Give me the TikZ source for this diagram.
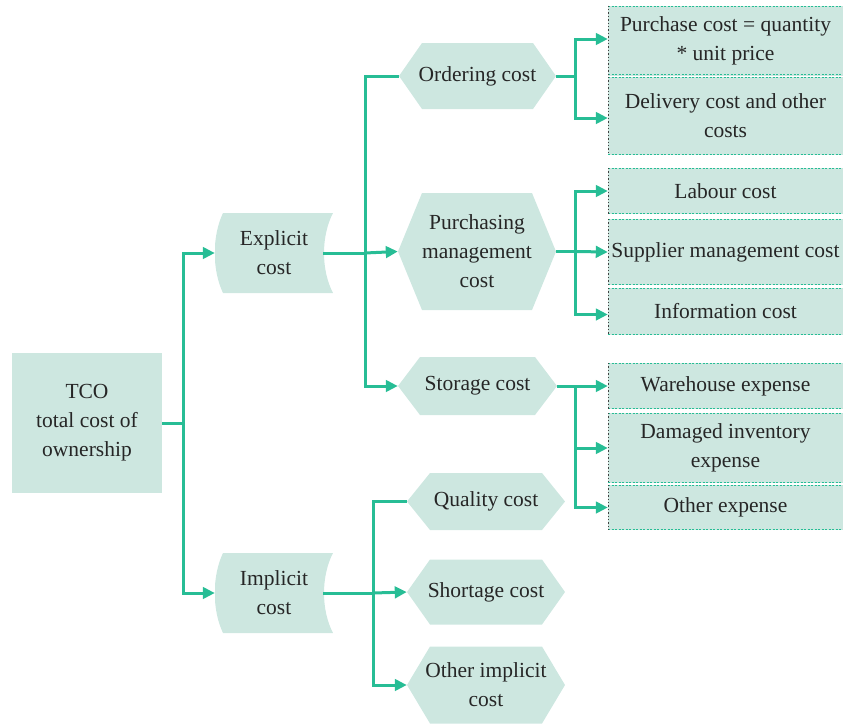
\documentclass[tikz,border=0pt]{standalone}
\usepackage{fontspec}
\setmainfont{Liberation Serif}
\usetikzlibrary{arrows.meta}
\definecolor{boxfill}{HTML}{CDE7E0}
\definecolor{linkteal}{HTML}{27BD95}
\definecolor{inktext}{HTML}{262626}
\definecolor{edgedark}{HTML}{404040}
\tikzset{
  every node/.style={font=\rmfamily\fontsize{21.5}{29}\selectfont, text=inktext, align=center, inner sep=0pt},
  link/.style={draw=linkteal, line width=3pt},
  arrowlink/.style={link, -{Triangle[length=12pt,width=11.5pt]}},
  rootbox/.style={fill=boxfill, minimum width=150pt, minimum height=140pt},
  tapebox/.style={minimum width=118pt, minimum height=80pt,
    path picture={
      \fill[boxfill]
        ([xshift=8pt]path picture bounding box.north west) --
        (path picture bounding box.north east)
        .. controls ([xshift=-12pt,yshift=-23pt]path picture bounding box.north east)
        and ([xshift=-12pt,yshift=23pt]path picture bounding box.south east) ..
        (path picture bounding box.south east) --
        ([xshift=8pt]path picture bounding box.south west)
        .. controls ([xshift=-3pt,yshift=23pt]path picture bounding box.south west)
        and ([xshift=-3pt,yshift=-23pt]path picture bounding box.north west) ..
        ([xshift=8pt]path picture bounding box.north west) -- cycle;
    }},
  hexbox/.style={
    path picture={
      \fill[boxfill]
        (path picture bounding box.west) --
        ([xshift=#1]path picture bounding box.north west) --
        ([xshift=-#1]path picture bounding box.north east) --
        (path picture bounding box.east) --
        ([xshift=-#1]path picture bounding box.south east) --
        ([xshift=#1]path picture bounding box.south west) -- cycle;
    }},
  leafbox/.style={fill=boxfill, minimum width=235pt,
    path picture={
      \draw[linkteal, line width=1.3pt, dash pattern=on 2pt off 1.5pt]
        ([yshift=-0.7pt]path picture bounding box.north west) --
        ([yshift=-0.7pt]path picture bounding box.north east)
        ([yshift=0.7pt]path picture bounding box.south west) --
        ([yshift=0.7pt]path picture bounding box.south east);
      \draw[edgedark, line width=1.4pt, dash pattern=on 1.4pt off 2pt]
        ([xshift=0.7pt]path picture bounding box.north west) --
        ([xshift=0.7pt]path picture bounding box.south west);
    }},
}
\begin{document}
\begin{tikzpicture}[x=1pt, y=-1pt]
\useasboundingbox (0,0) rectangle (843,724);

% root
\node[rootbox] (tco) at (87,423) {TCO\\total cost of\\ownership};

% first level
\node[tapebox] (explicit) at (274,253) {Explicit\\cost};
\node[tapebox] (implicit) at (274,593) {Implicit\\cost};

% second level, explicit branch
\node[hexbox=23pt, minimum width=157pt, minimum height=66pt] (ordering) at (477.5,76) {Ordering cost};
\node[hexbox=24pt, minimum width=158pt, minimum height=117pt] (purch) at (477,251.5) {Purchasing\\management\\cost};
\node[hexbox=22pt, minimum width=159pt, minimum height=58pt] (storage) at (477.5,386) {Storage cost};

% second level, implicit branch
\node[hexbox=23pt, minimum width=158pt, minimum height=57pt] (quality) at (486,501.5) {Quality cost};
\node[hexbox=23pt, minimum width=158pt, minimum height=65pt] (shortage) at (486,592) {Shortage cost};
\node[hexbox=23pt, minimum width=158pt, minimum height=77pt] (otherimp) at (486,685) {Other implicit\\cost};

% leaves
\node[leafbox, minimum height=70pt] (p1) at (725.5,40.5) {Purchase cost = quantity\\* unit price};
\node[leafbox, minimum height=78pt] (p2) at (725.5,116) {Delivery cost and other\\costs};
\node[leafbox, minimum height=46pt] (l1) at (725.5,191) {Labour cost};
\node[leafbox, minimum height=66pt] (l2) at (725.5,252) {Supplier management cost};
\node[leafbox, minimum height=47pt] (l3) at (725.5,311.5) {Information cost};
\node[leafbox, minimum height=46pt] (w1) at (725.5,386) {Warehouse expense};
\node[leafbox, minimum height=70pt] (w2) at (725.5,448) {Damaged inventory\\expense};
\node[leafbox, minimum height=45pt] (w3) at (725.5,507.5) {Other expense};

% branch points
\coordinate (t0) at (183,423);
\coordinate (e0) at (365,253);
\coordinate (i0) at (373,593);
\coordinate (o0) at (575,76);
\coordinate (m0) at (575,251.5);
\coordinate (s0) at (575,386);

% root to first level
\draw[link] (tco.east) -- (t0);
\draw[arrowlink] (t0) |- (explicit.west);
\draw[arrowlink] (t0) |- (implicit.west);

% explicit branch
\draw[link] ([xshift=-10pt]explicit.east) -- (e0);
\draw[arrowlink] (e0) -- (purch.west);
\draw[link] (e0) |- (ordering.west);
\draw[arrowlink] (e0) |- (storage.west);

% implicit branch
\draw[link] ([xshift=-10pt]implicit.east) -- (i0);
\draw[arrowlink] (i0) -- (shortage.west);
\draw[link] (i0) |- (quality.west);
\draw[arrowlink] (i0) |- (otherimp.west);

% ordering leaves
\draw[link] (ordering.east) -- (o0);
\draw[arrowlink] (o0) |- ([yshift=1.5pt]p1.west);
\draw[arrowlink] (o0) |- ([yshift=-2pt]p2.west);

% purchasing management leaves
\draw[link] (purch.east) -- (m0);
\draw[arrowlink] (m0) -- (l2.west);
\draw[arrowlink] (m0) |- (l1.west);
\draw[arrowlink] (m0) |- ([yshift=-3pt]l3.west);

% storage leaves
\draw[link] (storage.east) -- (s0);
\draw[arrowlink] (s0) |- (w1.west);
\draw[arrowlink] (s0) |- (w2.west);
\draw[arrowlink] (s0) |- (w3.west);
\end{tikzpicture}
\end{document}
